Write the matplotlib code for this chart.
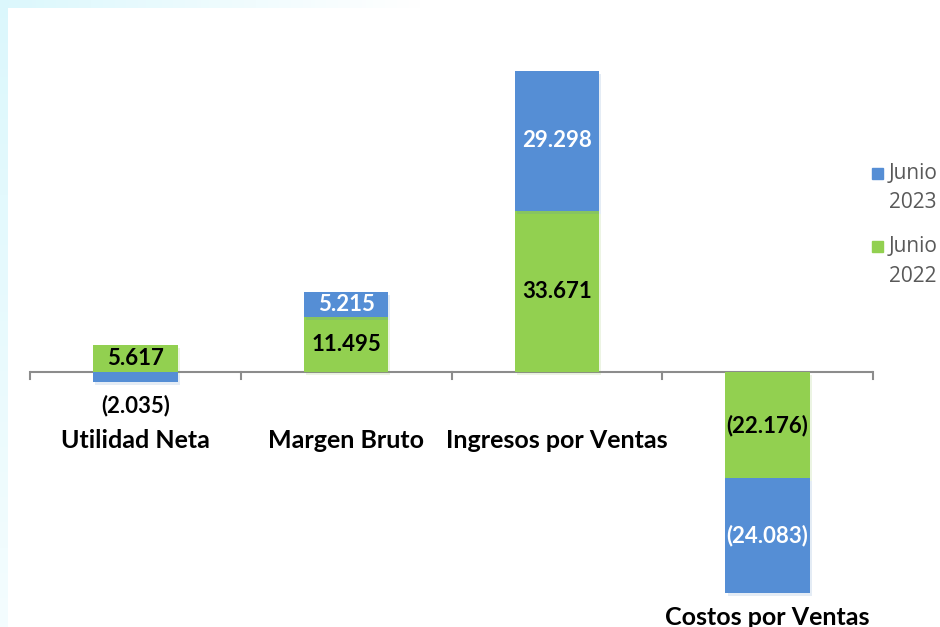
import matplotlib
matplotlib.use("Agg")
import matplotlib.pyplot as plt
import numpy as np
from matplotlib.patches import Rectangle
import matplotlib.patheffects as pe

categories = ["Utilidad Neta", "Margen Bruto", "Ingresos por Ventas", "Costos por Ventas"]
junio_2022 = [5.617, 11.495, 33.671, -22.176]
junio_2023 = [-2.035, 5.215, 29.298, -24.083]
series_names = [("Junio", "2023"), ("Junio", "2022")]

BLUE = "#558ED5"
GREEN = "#92D050"
FONT = ["Lato", "DejaVu Sans"]

W, H = 940, 627
fig = plt.figure(figsize=(W / 100, H / 100), dpi=100)
fig.patch.set_facecolor("white")

# faint cyan glow at left/top edges
bg = fig.add_axes([0, 0, 1, 1], zorder=0)
img = np.ones((H, W, 3))
yy, xx = np.mgrid[0:H, 0:W]
cyan = np.array([0.86, 0.97, 0.99])
mask = np.zeros((H, W))
mask[:, :8] = np.clip(1 - yy[:, :8] / 900, 0, 1)
top = (yy < 8) & (xx < 420)
mask[top] = np.maximum(mask[top], np.clip(1 - xx[top] / 420, 0, 1))
for c in range(3):
    img[:, :, c] = 1 - mask * (1 - cyan[c])
bg.imshow(img, extent=[0, W, H, 0], aspect="auto")
bg.axis("off")

# main axes: x from 30 to 873 px, full height
left = 30 / W
right = 873 / W
ax = fig.add_axes([left, 0, right - left, 1], zorder=1)
ax.patch.set_alpha(0)
ax.set_xlim(-0.5, len(categories) - 0.5)
ax.set_ylim(-53.3, 77.8)

x = np.arange(len(categories))
width = 0.4
shadow = [pe.SimplePatchShadow(offset=(1.5, -2), alpha=0.15, rho=0.9), pe.Normal()]

pos_base = np.zeros(len(categories))
neg_base = np.zeros(len(categories))
bars = {}
for name, vals, col in [("2022", junio_2022, GREEN), ("2023", junio_2023, BLUE)]:
    vals = np.array(vals)
    base = np.where(vals >= 0, pos_base, neg_base)
    b = ax.bar(x, vals, width, bottom=base, color=col, zorder=3)
    for p in b:
        p.set_path_effects(shadow)
    bars[name] = (vals, base)
    pos_base = pos_base + np.where(vals >= 0, vals, 0)
    neg_base = neg_base + np.where(vals < 0, vals, 0)

def fmt(v):
    s = f"{abs(v):.3f}"
    return f"({s})" if v < 0 else s

LBL = 16
# data labels
v22, b22 = bars["2022"]
for i, v in enumerate(v22):
    ax.text(x[i], b22[i] + v / 2, fmt(v), ha="center", va="center",
            fontsize=LBL, fontweight="bold", family=FONT, color="black", zorder=5)
v23, b23 = bars["2023"]
for i, v in enumerate(v23):
    if abs(v) < 4:
        ax.text(x[i], b23[i] + v - 5.0, fmt(v), ha="center", va="center",
                fontsize=LBL, fontweight="bold", family=FONT, color="black", zorder=5)
    else:
        ax.text(x[i], b23[i] + v / 2, fmt(v), ha="center", va="center",
                fontsize=LBL, fontweight="bold", family=FONT, color="white", zorder=5)

# category labels
for i, c in enumerate(categories):
    y = -14.2 if neg_base[i] > -20 else neg_base[i] - 5.0
    ax.text(x[i], y, c, ha="center", va="center", fontsize=18,
            fontweight="bold", family=FONT, color="black", zorder=5)

# axis line with ticks
for s in ["top", "right", "left", "bottom"]:
    ax.spines[s].set_visible(False)
ax.axhline(0, color="#8c8c8c", lw=1.5, zorder=2)
for t in np.arange(len(categories) + 1) - 0.5:
    ax.plot([t, t], [0, -1.4], color="#8c8c8c", lw=1.5, zorder=2, clip_on=False)
ax.set_xticks([])
ax.set_yticks([])

# legend (manual)
for (lab, col, yc) in [(series_names[0], BLUE, 173), (series_names[1], GREEN, 246)]:
    fig.patches.append(Rectangle((872 / W, 1 - (yc + 6) / H), 11 / W, 11 / H,
                                 transform=fig.transFigure, color=col, zorder=6))
    fig.text(889 / W, 1 - yc / H, lab[0], ha="left", va="center",
             fontsize=15, family=["Open Sans", "DejaVu Sans"], color="#595959", zorder=6)
    fig.text(889 / W, 1 - (yc + 30) / H, lab[1], ha="left", va="center",
             fontsize=15, family=["Open Sans", "DejaVu Sans"], color="#595959", zorder=6)

fig.savefig("out.png", dpi=100)
